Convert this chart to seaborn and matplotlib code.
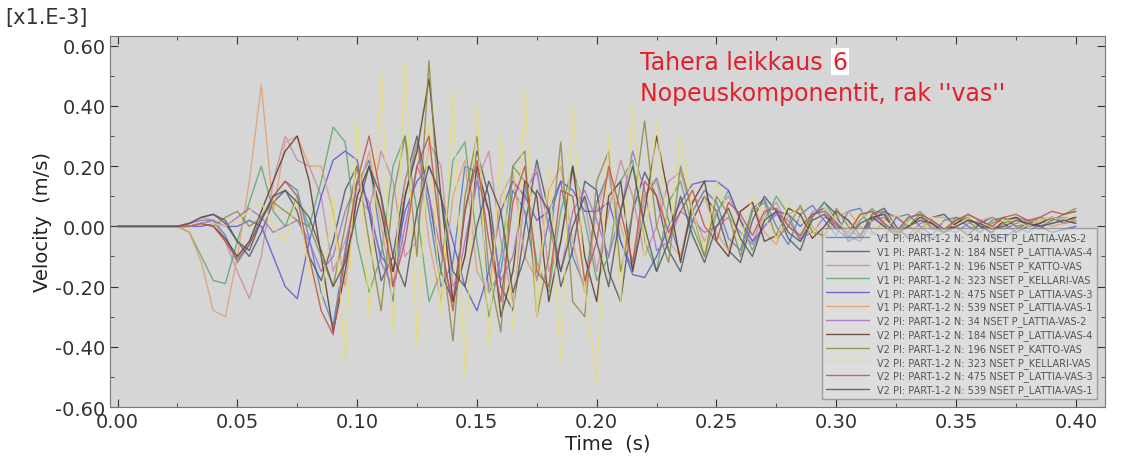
import matplotlib
matplotlib.use("Agg")
import matplotlib.pyplot as plt
from matplotlib.ticker import MultipleLocator, FormatStrFormatter
import numpy as np
import pandas as pd
import seaborn as sns

# time axis, 0.005 s step
time = np.round(np.arange(0, 81) * 0.005, 3)

labels = [
    "V1 PI: PART-1-2 N: 34 NSET P_LATTIA-VAS-2",
    "V1 PI: PART-1-2 N: 184 NSET P_LATTIA-VAS-4",
    "V1 PI: PART-1-2 N: 196 NSET P_KATTO-VAS",
    "V1 PI: PART-1-2 N: 323 NSET P_KELLARI-VAS",
    "V1 PI: PART-1-2 N: 475 NSET P_LATTIA-VAS-3",
    "V1 PI: PART-1-2 N: 539 NSET P_LATTIA-VAS-1",
    "V2 PI: PART-1-2 N: 34 NSET P_LATTIA-VAS-2",
    "V2 PI: PART-1-2 N: 184 NSET P_LATTIA-VAS-4",
    "V2 PI: PART-1-2 N: 196 NSET P_KATTO-VAS",
    "V2 PI: PART-1-2 N: 323 NSET P_KELLARI-VAS",
    "V2 PI: PART-1-2 N: 475 NSET P_LATTIA-VAS-3",
    "V2 PI: PART-1-2 N: 539 NSET P_LATTIA-VAS-1",
]

colors = ["#4f7fbf", "#4a5668", "#c88aa8", "#5fa86a", "#5a5ad0", "#e0a070",
          "#a070c8", "#5a3a2a", "#8e8a40", "#e6dc78", "#c0504a", "#555555"]

v1_34 = [0, 0, 0, 0, 0, 0, 0.00, 0.01, 0.02, -0.03,
         -0.12, -0.06, 0.03, 0.10, 0.15, 0.12, -0.04, -0.22, -0.33, -0.08,
         0.14, 0.22, -0.05, -0.25, 0.10, 0.28, 0.05, -0.20, -0.12, 0.20,
         0.18, -0.22, -0.15, 0.12, 0.05, -0.18, 0.02, 0.15, -0.10, -0.20,
         0.08, 0.18, -0.05, -0.14, 0.10, 0.16, 0.02, -0.10, 0.05, 0.12,
         0.08, -0.04, -0.08, 0.06, 0.09, 0.00, -0.06, 0.04, 0.07, 0.02,
         -0.03, 0.05, 0.06, -0.02, -0.04, 0.03, 0.04, 0.00, -0.03, 0.02,
         0.03, 0.00, -0.02, 0.02, 0.03, 0.00, -0.02, 0.01, 0.03, 0.02,
         0.03]
v1_184 = [0, 0, 0, 0, 0, 0, 0.01, 0.03, 0.04, 0.01,
          -0.05, -0.10, -0.02, 0.08, 0.12, 0.05, -0.10, -0.18, -0.05, 0.12,
          0.20, 0.05, -0.18, -0.10, 0.15, 0.30, 0.10, -0.15, -0.25, 0.05,
          0.25, 0.10, -0.20, -0.28, 0.00, 0.22, 0.05, -0.20, -0.08, 0.15,
          0.12, -0.15, -0.25, 0.05, 0.18, 0.10, -0.08, -0.15, 0.02, 0.10,
          0.05, -0.08, -0.12, 0.02, 0.10, 0.05, -0.04, -0.08, 0.03, 0.08,
          0.04, -0.05, -0.03, 0.04, 0.06, 0.00, -0.04, -0.01, 0.03, 0.04,
          0.00, -0.03, 0.01, 0.03, 0.01, -0.02, 0.00, 0.02, 0.03, 0.01,
          0.02]
v1_196 = [0, 0, 0, 0, 0, 0, 0.01, 0.03, 0.02, -0.05,
          -0.15, -0.24, -0.10, 0.15, 0.30, 0.22, 0.20, 0.10, -0.15, -0.05,
          0.10, 0.05, 0.25, 0.15, -0.10, -0.05, 0.28, 0.20, -0.20, -0.10,
          0.15, 0.25, -0.05, -0.25, 0.10, 0.20, -0.15, -0.05, 0.18, 0.08,
          -0.15, 0.05, 0.22, 0.10, -0.10, 0.00, 0.15, 0.18, 0.05, -0.05,
          0.05, 0.10, 0.02, -0.05, 0.04, 0.08, 0.00, -0.04, 0.05, 0.06,
          0.01, -0.03, 0.04, 0.05, 0.00, -0.02, 0.03, 0.04, 0.00, -0.02,
          0.02, 0.03, 0.00, -0.02, 0.01, 0.03, 0.01, -0.01, 0.02, 0.03,
          0.02]
v1_323 = [0, 0, 0, 0, 0, 0, -0.02, -0.10, -0.18, -0.19,
          -0.05, 0.08, 0.20, 0.05, 0.00, 0.10, 0.00, 0.15, 0.33, 0.28,
          -0.05, -0.22, -0.10, 0.20, 0.30, 0.05, -0.25, -0.15, 0.22, 0.28,
          -0.05, -0.30, -0.10, 0.20, 0.15, -0.12, -0.22, 0.05, 0.20, 0.02,
          -0.18, -0.10, 0.15, 0.22, -0.05, -0.15, 0.08, 0.15, 0.00, -0.10,
          0.04, 0.12, 0.02, -0.08, 0.02, 0.10, 0.04, -0.05, 0.03, 0.08,
          0.02, -0.04, 0.02, 0.06, 0.01, -0.03, 0.02, 0.05, 0.01, -0.02,
          0.01, 0.04, 0.02, -0.01, 0.01, 0.03, 0.02, 0.00, 0.02, 0.04,
          0.05]
v1_475 = [0, 0, 0, 0, 0, 0, 0.00, 0.00, 0.01, 0.00,
          0.00, 0.02, 0.00, -0.10, -0.20, -0.24, -0.05, 0.10, 0.22, 0.25,
          0.22, 0.05, -0.10, -0.15, 0.05, 0.15, 0.20, 0.10, -0.05, -0.20,
          -0.28, -0.15, 0.05, 0.15, 0.10, 0.02, 0.05, 0.15, 0.12, 0.05,
          0.05, 0.08, -0.05, -0.16, -0.17, -0.10, 0.00, 0.08, 0.14, 0.15,
          0.15, 0.12, 0.02, -0.05, 0.00, 0.05, 0.04, 0.00, 0.04, 0.06,
          0.01, -0.03, -0.05, 0.02, 0.05, 0.03, 0.00, -0.02, -0.04, -0.02,
          0.00, 0.02, 0.01, -0.03, -0.04, -0.01, 0.01, 0.00, -0.02, -0.01,
          0.00]
v1_539 = [0, 0, 0, 0, 0, 0, -0.02, -0.12, -0.28, -0.30,
          -0.10, 0.15, 0.47, 0.05, 0.28, 0.30, 0.20, 0.20, 0.05, -0.20,
          0.10, 0.25, 0.00, -0.20, 0.15, 0.28, -0.05, -0.25, 0.10, 0.22,
          -0.15, -0.22, 0.10, 0.18, -0.10, -0.18, 0.12, 0.20, -0.05, -0.22,
          0.05, 0.18, 0.00, -0.12, 0.10, 0.15, -0.05, -0.10, 0.08, 0.10,
          -0.02, -0.08, 0.05, 0.08, -0.02, -0.06, 0.04, 0.06, 0.00, -0.04,
          0.03, 0.05, 0.00, -0.03, 0.02, 0.04, 0.00, -0.02, 0.03, 0.03,
          0.00, -0.02, 0.02, 0.03, 0.00, -0.01, 0.02, 0.02, 0.00, 0.01,
          0.02]
v2_34 = [0, 0, 0, 0, 0, 0, 0.01, 0.02, 0.02, 0.00,
         0.03, 0.06, 0.03, -0.02, 0.00, 0.02, -0.05, -0.15, -0.10, 0.05,
         0.15, 0.08, -0.12, -0.20, 0.00, 0.20, 0.10, -0.08, -0.25, -0.05,
         0.15, 0.05, -0.18, -0.10, 0.12, 0.18, 0.00, -0.15, 0.05, 0.12,
         0.02, -0.10, 0.05, 0.25, 0.12, -0.08, -0.05, 0.05, 0.02, -0.02,
         0.00, 0.03, -0.02, -0.06, 0.00, 0.04, 0.02, -0.04, -0.02, 0.03,
         0.02, -0.02, -0.03, 0.02, 0.03, -0.01, -0.03, 0.01, 0.02, -0.01,
         -0.02, 0.01, 0.02, 0.00, -0.01, 0.01, 0.02, 0.00, 0.01, 0.02,
         0.01]
v2_184 = [0, 0, 0, 0, 0, 0, 0.00, 0.01, 0.00, -0.04,
          -0.10, -0.05, 0.05, 0.15, 0.25, 0.30, 0.15, -0.10, -0.35, -0.15,
          0.10, 0.20, 0.05, -0.15, 0.10, 0.25, 0.49, 0.10, -0.25, -0.10,
          0.20, 0.05, -0.30, -0.15, 0.15, 0.10, -0.25, -0.05, 0.20, -0.10,
          -0.25, 0.10, 0.15, -0.15, 0.05, 0.30, 0.10, -0.12, 0.08, 0.15,
          -0.05, -0.10, 0.05, 0.08, -0.05, -0.03, 0.06, 0.04, -0.04, 0.00,
          0.05, 0.02, -0.03, 0.03, 0.04, -0.02, 0.00, 0.03, 0.01, -0.02,
          0.01, 0.03, 0.00, -0.02, 0.02, 0.03, 0.00, 0.01, 0.03, 0.02,
          0.03]
v2_196 = [0, 0, 0, 0, 0, 0, 0.00, 0.01, 0.00, 0.03,
          0.05, 0.00, 0.03, 0.08, 0.05, 0.02, 0.00, -0.10, -0.20, 0.00,
          0.20, -0.05, -0.28, 0.10, 0.30, -0.10, 0.55, -0.05, -0.38, 0.10,
          0.30, -0.15, -0.35, 0.20, 0.25, -0.30, -0.10, 0.28, -0.25, -0.30,
          0.15, 0.25, -0.15, 0.05, 0.35, 0.00, -0.12, 0.20, 0.05, -0.10,
          0.10, 0.04, -0.10, 0.05, 0.08, -0.04, 0.00, 0.07, -0.02, -0.03,
          0.06, 0.00, -0.04, 0.04, 0.05, -0.02, 0.00, 0.04, -0.01, -0.02,
          0.03, 0.02, -0.02, 0.01, 0.03, 0.00, 0.01, 0.03, 0.02, 0.04,
          0.06]
v2_323 = [0, 0, 0, 0, 0, 0, 0.00, 0.01, 0.01, 0.00,
          0.02, 0.05, 0.08, 0.00, -0.05, 0.10, -0.15, -0.25, 0.10, -0.45,
          0.35, -0.30, 0.52, -0.35, 0.55, -0.40, 0.35, -0.30, 0.45, -0.50,
          0.40, -0.40, 0.30, -0.35, 0.45, -0.30, 0.20, -0.45, 0.40, -0.20,
          -0.52, 0.30, -0.25, 0.40, -0.10, 0.35, -0.05, 0.30, 0.05, -0.08,
          0.15, 0.05, -0.05, 0.10, 0.03, -0.04, 0.08, 0.02, -0.03, 0.06,
          0.02, -0.02, 0.05, 0.01, -0.02, 0.04, 0.01, -0.01, 0.03, 0.01,
          0.00, 0.03, 0.01, 0.00, 0.02, 0.02, 0.00, 0.02, 0.03, 0.02,
          0.04]
v2_475 = [0, 0, 0, 0, 0, 0, 0.00, 0.01, 0.00, -0.05,
          -0.11, -0.06, 0.02, 0.10, 0.15, 0.10, -0.10, -0.28, -0.36, -0.10,
          0.15, 0.30, 0.10, -0.20, -0.05, 0.20, 0.30, -0.05, -0.28, 0.05,
          0.22, -0.05, -0.25, 0.08, 0.20, -0.15, -0.20, 0.12, 0.10, -0.18,
          -0.05, 0.20, 0.05, -0.12, 0.15, 0.10, -0.02, 0.05, 0.12, 0.00,
          -0.05, 0.08, 0.04, -0.03, 0.05, 0.06, 0.00, -0.03, 0.04, 0.05,
          0.00, -0.02, 0.04, 0.05, 0.01, -0.02, 0.03, 0.04, 0.02, -0.01,
          0.02, 0.04, 0.02, 0.00, 0.03, 0.04, 0.02, 0.03, 0.05, 0.04,
          0.05]
v2_539 = [0, 0, 0, 0, 0, 0, 0.01, 0.03, 0.04, 0.02,
          -0.05, -0.08, 0.02, 0.10, 0.12, 0.08, 0.03, -0.08, -0.20, -0.12,
          0.05, 0.20, 0.10, -0.10, -0.20, 0.05, 0.20, 0.10, -0.15, -0.20,
          0.00, 0.15, 0.05, -0.22, -0.10, 0.12, 0.05, -0.15, 0.00, 0.10,
          -0.05, -0.20, 0.05, 0.20, 0.00, -0.15, -0.05, 0.10, -0.03, -0.12,
          0.00, 0.06, -0.04, -0.10, 0.02, 0.05, -0.02, -0.05, 0.02, 0.04,
          -0.01, -0.04, 0.01, 0.03, 0.00, -0.03, 0.00, 0.02, 0.01, -0.02,
          0.00, 0.02, 0.01, -0.01, 0.00, 0.02, 0.01, 0.00, 0.01, 0.02,
          0.01]

series = [v1_34, v1_184, v1_196, v1_323, v1_475, v1_539,
          v2_34, v2_184, v2_196, v2_323, v2_475, v2_539]

df = pd.concat(
    [pd.DataFrame({"time": time, "velocity": vals, "curve": lab})
     for lab, vals in zip(labels, series)],
    ignore_index=True)

sns.set_style("ticks")
plt.rcParams["font.family"] = ["DejaVu Sans"]

fig = plt.figure(figsize=(11.26, 4.6), dpi=100)
ax = fig.add_axes([0.098, 0.113, 0.883, 0.807])
ax.set_facecolor("#d6d6d6")

sns.lineplot(data=df, x="time", y="velocity", hue="curve", hue_order=labels,
             palette=colors, linewidth=1.0, alpha=0.85, ax=ax, legend=True)

ax.set_xlim(-0.003, 0.412)
ax.set_ylim(-0.60, 0.633)
ax.xaxis.set_major_locator(MultipleLocator(0.05))
ax.xaxis.set_minor_locator(MultipleLocator(0.025))
ax.yaxis.set_major_locator(MultipleLocator(0.2))
ax.yaxis.set_minor_locator(MultipleLocator(0.1))
ax.xaxis.set_major_formatter(FormatStrFormatter("%.2f"))
ax.yaxis.set_major_formatter(FormatStrFormatter("%.2f"))
ax.tick_params(which="both", direction="in", top=True, right=True,
               labelsize=14, colors="#333333")
ax.tick_params(which="major", length=6)
ax.tick_params(which="minor", length=3)
for s in ax.spines.values():
    s.set_color("#777777")

ax.set_xlabel("Time  (s)", fontsize=14, color="#222222", labelpad=2)
ax.set_ylabel("Velocity  (m/s)", fontsize=14, color="#222222", labelpad=2)
fig.text(0.005, 0.96, "[x1.E-3]", fontsize=15, color="#333333",
         ha="left", va="center")

# annotation in red
t1 = ax.text(0.533, 0.93, "Tahera leikkaus", transform=ax.transAxes,
             fontsize=17, color="#e41e2a", ha="left", va="center")
ax.annotate("6", xy=(1, 0.5), xycoords=t1, xytext=(7, 0),
            textcoords="offset points", fontsize=17, color="#e41e2a",
            ha="left", va="center",
            bbox=dict(facecolor="white", edgecolor="none", pad=1))
ax.text(0.533, 0.845, "Nopeuskomponentit, rak ''vas''", transform=ax.transAxes,
        fontsize=17, color="#e41e2a", ha="left", va="center")

leg = ax.legend(loc="lower right", bbox_to_anchor=(0.997, 0.008), fontsize=7,
                frameon=True, fancybox=False, handlelength=4.5,
                labelspacing=0.3, borderpad=0.4)
leg.get_frame().set_facecolor("#e2e2e2")
leg.get_frame().set_alpha(0.6)
leg.get_frame().set_edgecolor("#777777")
for t in leg.get_texts():
    t.set_color("#555555")

fig.savefig("out.png", dpi=100)
